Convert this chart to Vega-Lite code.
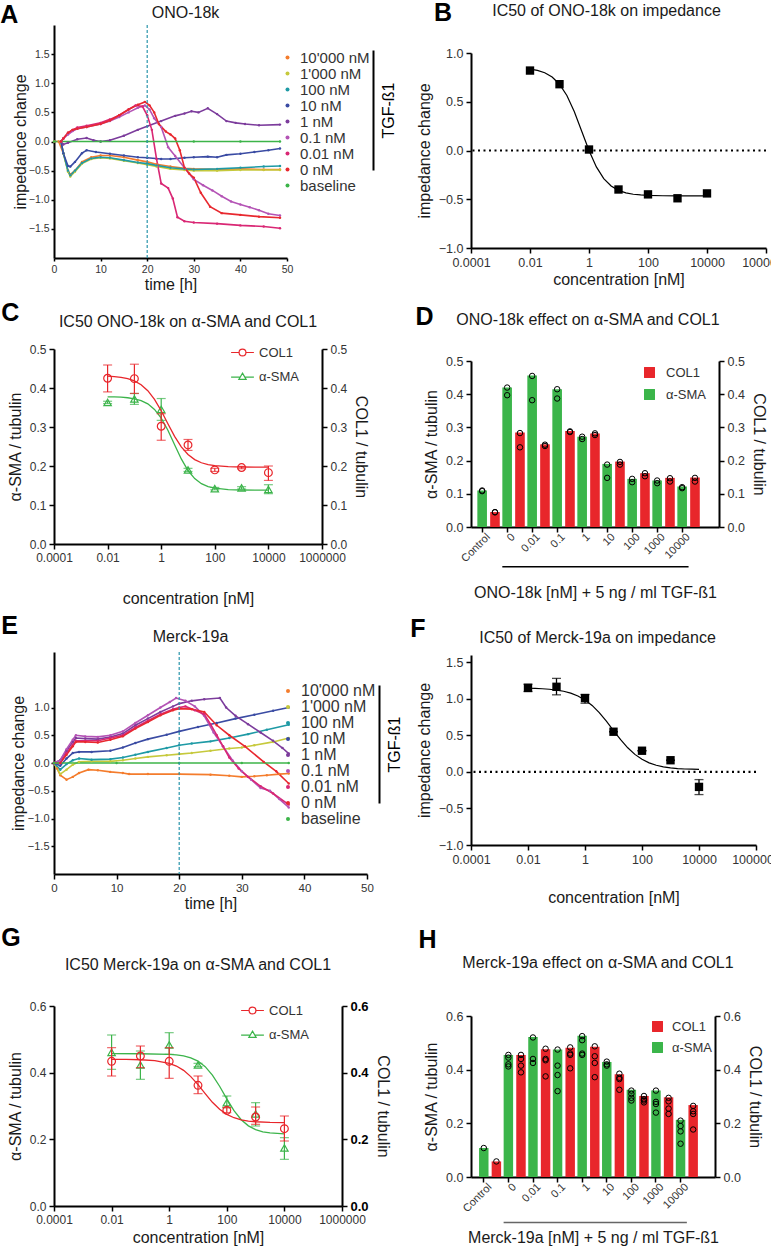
{
"$schema":"https://vega.github.io/schema/vega-lite/v6.json",
"padding":{"left":0,"top":1,"right":0,"bottom":0},
"background":"white",
"config":{
 "font":"Liberation Sans",
 "view":{"stroke":null},
 "axis":{"domainColor":"#000","domainWidth":2,"tickColor":"#000","tickWidth":1.5,"tickSize":5,"labelFontSize":12.5,"labelColor":"#333","titleFontSize":16,"titleFontWeight":"normal","titleColor":"#1a1a1a","grid":false,"labelPadding":3,"titlePadding":6,"labelOverlap":false,"labelFlush":false},
 "title":{"fontSize":16,"fontWeight":"normal","color":"#1a1a1a","frame":"group"},
 "legend":{"labelColor":"#333","titleFontWeight":"normal","labelFont":"Liberation Sans"}
},
"datasets":{
"tsA":[
{"s":"10'000 nM","t":0,"v":0},{"s":"10'000 nM","t":1,"v":0},{"s":"10'000 nM","t":2,"v":-0.2},{"s":"10'000 nM","t":3,"v":-0.5},{"s":"10'000 nM","t":3.5,"v":-0.57},{"s":"10'000 nM","t":4.5,"v":-0.5},{"s":"10'000 nM","t":6,"v":-0.35},{"s":"10'000 nM","t":8,"v":-0.27},{"s":"10'000 nM","t":10,"v":-0.24},{"s":"10'000 nM","t":12,"v":-0.24},{"s":"10'000 nM","t":15,"v":-0.27},{"s":"10'000 nM","t":18,"v":-0.32},{"s":"10'000 nM","t":20,"v":-0.35},{"s":"10'000 nM","t":22,"v":-0.39},{"s":"10'000 nM","t":25,"v":-0.43},{"s":"10'000 nM","t":28,"v":-0.46},{"s":"10'000 nM","t":30,"v":-0.47},{"s":"10'000 nM","t":35,"v":-0.48},{"s":"10'000 nM","t":40,"v":-0.47},{"s":"10'000 nM","t":45,"v":-0.48},{"s":"10'000 nM","t":48.5,"v":-0.48},
{"s":"1'000 nM","t":1.5,"v":0},{"s":"1'000 nM","t":2,"v":-0.2},{"s":"1'000 nM","t":3,"v":-0.52},{"s":"1'000 nM","t":3.5,"v":-0.6},{"s":"1'000 nM","t":4.5,"v":-0.52},{"s":"1'000 nM","t":6,"v":-0.38},{"s":"1'000 nM","t":8,"v":-0.3},{"s":"1'000 nM","t":10,"v":-0.28},{"s":"1'000 nM","t":12,"v":-0.29},{"s":"1'000 nM","t":15,"v":-0.33},{"s":"1'000 nM","t":18,"v":-0.37},{"s":"1'000 nM","t":20,"v":-0.4},{"s":"1'000 nM","t":22,"v":-0.43},{"s":"1'000 nM","t":25,"v":-0.47},{"s":"1'000 nM","t":28,"v":-0.49},{"s":"1'000 nM","t":30,"v":-0.5},{"s":"1'000 nM","t":35,"v":-0.5},{"s":"1'000 nM","t":40,"v":-0.49},{"s":"1'000 nM","t":45,"v":-0.49},{"s":"1'000 nM","t":48.5,"v":-0.49},
{"s":"100 nM","t":1.5,"v":0},{"s":"100 nM","t":2,"v":-0.2},{"s":"100 nM","t":3,"v":-0.5},{"s":"100 nM","t":3.5,"v":-0.58},{"s":"100 nM","t":4.5,"v":-0.5},{"s":"100 nM","t":6,"v":-0.37},{"s":"100 nM","t":8,"v":-0.29},{"s":"100 nM","t":10,"v":-0.27},{"s":"100 nM","t":12,"v":-0.28},{"s":"100 nM","t":15,"v":-0.32},{"s":"100 nM","t":18,"v":-0.36},{"s":"100 nM","t":20,"v":-0.38},{"s":"100 nM","t":22,"v":-0.41},{"s":"100 nM","t":25,"v":-0.45},{"s":"100 nM","t":28,"v":-0.47},{"s":"100 nM","t":30,"v":-0.48},{"s":"100 nM","t":35,"v":-0.47},{"s":"100 nM","t":40,"v":-0.45},{"s":"100 nM","t":45,"v":-0.43},{"s":"100 nM","t":48.5,"v":-0.42},
{"s":"10 nM","t":1.5,"v":0},{"s":"10 nM","t":2,"v":-0.2},{"s":"10 nM","t":3,"v":-0.42},{"s":"10 nM","t":3.5,"v":-0.43},{"s":"10 nM","t":4.5,"v":-0.35},{"s":"10 nM","t":6,"v":-0.2},{"s":"10 nM","t":7,"v":-0.15},{"s":"10 nM","t":9,"v":-0.18},{"s":"10 nM","t":12,"v":-0.21},{"s":"10 nM","t":15,"v":-0.24},{"s":"10 nM","t":18,"v":-0.27},{"s":"10 nM","t":20,"v":-0.28},{"s":"10 nM","t":23,"v":-0.3},{"s":"10 nM","t":25,"v":-0.3},{"s":"10 nM","t":28,"v":-0.28},{"s":"10 nM","t":30,"v":-0.27},{"s":"10 nM","t":33,"v":-0.26},{"s":"10 nM","t":35,"v":-0.27},{"s":"10 nM","t":37,"v":-0.23},{"s":"10 nM","t":40,"v":-0.21},{"s":"10 nM","t":43,"v":-0.18},{"s":"10 nM","t":46,"v":-0.15},{"s":"10 nM","t":48.5,"v":-0.12},
{"s":"1 nM","t":1.5,"v":0},{"s":"1 nM","t":2,"v":-0.05},{"s":"1 nM","t":3,"v":-0.02},{"s":"1 nM","t":5,"v":0.04},{"s":"1 nM","t":7,"v":0.06},{"s":"1 nM","t":8.5,"v":0.02},{"s":"1 nM","t":10,"v":0},{"s":"1 nM","t":12,"v":0.02},{"s":"1 nM","t":15,"v":0.1},{"s":"1 nM","t":18,"v":0.2},{"s":"1 nM","t":20,"v":0.26},{"s":"1 nM","t":23,"v":0.35},{"s":"1 nM","t":26,"v":0.44},{"s":"1 nM","t":28,"v":0.48},{"s":"1 nM","t":29.5,"v":0.52},{"s":"1 nM","t":31,"v":0.5},{"s":"1 nM","t":33,"v":0.57},{"s":"1 nM","t":35,"v":0.47},{"s":"1 nM","t":37,"v":0.35},{"s":"1 nM","t":39,"v":0.32},{"s":"1 nM","t":41,"v":0.3},{"s":"1 nM","t":44,"v":0.28},{"s":"1 nM","t":48.5,"v":0.29},
{"s":"0.1 nM","t":1.5,"v":0},{"s":"0.1 nM","t":2,"v":0.05},{"s":"0.1 nM","t":3,"v":0.12},{"s":"0.1 nM","t":4,"v":0.18},{"s":"0.1 nM","t":5,"v":0.22},{"s":"0.1 nM","t":7,"v":0.25},{"s":"0.1 nM","t":10,"v":0.3},{"s":"0.1 nM","t":12,"v":0.35},{"s":"0.1 nM","t":14,"v":0.42},{"s":"0.1 nM","t":16,"v":0.5},{"s":"0.1 nM","t":18,"v":0.58},{"s":"0.1 nM","t":19.5,"v":0.62},{"s":"0.1 nM","t":20.5,"v":0.55},{"s":"0.1 nM","t":21.5,"v":0.4},{"s":"0.1 nM","t":23,"v":0.25},{"s":"0.1 nM","t":24.5,"v":-0.1},{"s":"0.1 nM","t":26,"v":-0.25},{"s":"0.1 nM","t":28,"v":-0.45},{"s":"0.1 nM","t":30,"v":-0.65},{"s":"0.1 nM","t":32,"v":-0.75},{"s":"0.1 nM","t":34,"v":-0.84},{"s":"0.1 nM","t":36,"v":-0.94},{"s":"0.1 nM","t":38,"v":-1.03},{"s":"0.1 nM","t":40,"v":-1.08},{"s":"0.1 nM","t":42,"v":-1.13},{"s":"0.1 nM","t":44,"v":-1.18},{"s":"0.1 nM","t":46,"v":-1.24},{"s":"0.1 nM","t":48.5,"v":-1.27},
{"s":"0.01 nM","t":1.5,"v":0},{"s":"0.01 nM","t":2,"v":0.05},{"s":"0.01 nM","t":3,"v":0.15},{"s":"0.01 nM","t":4,"v":0.2},{"s":"0.01 nM","t":5,"v":0.24},{"s":"0.01 nM","t":7,"v":0.27},{"s":"0.01 nM","t":10,"v":0.32},{"s":"0.01 nM","t":12,"v":0.38},{"s":"0.01 nM","t":14,"v":0.45},{"s":"0.01 nM","t":16,"v":0.55},{"s":"0.01 nM","t":17.5,"v":0.62},{"s":"0.01 nM","t":19,"v":0.6},{"s":"0.01 nM","t":20,"v":0.45},{"s":"0.01 nM","t":21,"v":0.2},{"s":"0.01 nM","t":22,"v":-0.3},{"s":"0.01 nM","t":23,"v":-0.72},{"s":"0.01 nM","t":24.5,"v":-0.8},{"s":"0.01 nM","t":25.5,"v":-0.98},{"s":"0.01 nM","t":26.5,"v":-1.3},{"s":"0.01 nM","t":28,"v":-1.37},{"s":"0.01 nM","t":30,"v":-1.39},{"s":"0.01 nM","t":35,"v":-1.41},{"s":"0.01 nM","t":40,"v":-1.44},{"s":"0.01 nM","t":45,"v":-1.46},{"s":"0.01 nM","t":48.5,"v":-1.49},
{"s":"0 nM","t":1.5,"v":0},{"s":"0 nM","t":2,"v":0.05},{"s":"0 nM","t":3,"v":0.15},{"s":"0 nM","t":4,"v":0.2},{"s":"0 nM","t":5,"v":0.22},{"s":"0 nM","t":7,"v":0.25},{"s":"0 nM","t":10,"v":0.3},{"s":"0 nM","t":12,"v":0.36},{"s":"0 nM","t":14,"v":0.45},{"s":"0 nM","t":16,"v":0.55},{"s":"0 nM","t":18,"v":0.63},{"s":"0 nM","t":19.5,"v":0.68},{"s":"0 nM","t":20.5,"v":0.62},{"s":"0 nM","t":21.5,"v":0.5},{"s":"0 nM","t":22.5,"v":0.3},{"s":"0 nM","t":24,"v":0.17},{"s":"0 nM","t":25,"v":0.12},{"s":"0 nM","t":26,"v":0.05},{"s":"0 nM","t":27,"v":-0.15},{"s":"0 nM","t":28,"v":-0.45},{"s":"0 nM","t":29,"v":-0.55},{"s":"0 nM","t":30,"v":-0.62},{"s":"0 nM","t":31.5,"v":-0.88},{"s":"0 nM","t":33.5,"v":-1.12},{"s":"0 nM","t":36,"v":-1.23},{"s":"0 nM","t":40,"v":-1.26},{"s":"0 nM","t":44,"v":-1.29},{"s":"0 nM","t":48.5,"v":-1.31},
{"s":"baseline","t":0,"v":0},{"s":"baseline","t":10,"v":0},{"s":"baseline","t":20,"v":0},{"s":"baseline","t":30,"v":0},{"s":"baseline","t":40,"v":0},{"s":"baseline","t":48.5,"v":0}
],
"tsE":[
{"s":"10'000 nM","t":0,"v":0},{"s":"10'000 nM","t":0.5,"v":-0.1},{"s":"10'000 nM","t":1,"v":-0.22},{"s":"10'000 nM","t":2,"v":-0.3},{"s":"10'000 nM","t":3,"v":-0.25},{"s":"10'000 nM","t":4,"v":-0.18},{"s":"10'000 nM","t":5.5,"v":-0.12},{"s":"10'000 nM","t":7,"v":-0.13},{"s":"10'000 nM","t":9,"v":-0.16},{"s":"10'000 nM","t":11,"v":-0.18},{"s":"10'000 nM","t":12,"v":-0.2},{"s":"10'000 nM","t":15,"v":-0.2},{"s":"10'000 nM","t":20,"v":-0.2},{"s":"10'000 nM","t":25,"v":-0.21},{"s":"10'000 nM","t":28,"v":-0.23},{"s":"10'000 nM","t":30,"v":-0.25},{"s":"10'000 nM","t":32,"v":-0.24},{"s":"10'000 nM","t":34,"v":-0.22},{"s":"10'000 nM","t":36,"v":-0.2},{"s":"10'000 nM","t":37.5,"v":-0.19},
{"s":"1'000 nM","t":0,"v":0},{"s":"1'000 nM","t":1,"v":-0.2},{"s":"1'000 nM","t":2,"v":-0.12},{"s":"1'000 nM","t":3,"v":-0.03},{"s":"1'000 nM","t":4,"v":0.02},{"s":"1'000 nM","t":6,"v":0.03},{"s":"1'000 nM","t":9,"v":0.03},{"s":"1'000 nM","t":11,"v":0.05},{"s":"1'000 nM","t":13,"v":0.08},{"s":"1'000 nM","t":15,"v":0.11},{"s":"1'000 nM","t":18,"v":0.14},{"s":"1'000 nM","t":20,"v":0.16},{"s":"1'000 nM","t":22,"v":0.18},{"s":"1'000 nM","t":25,"v":0.22},{"s":"1'000 nM","t":28,"v":0.26},{"s":"1'000 nM","t":30,"v":0.28},{"s":"1'000 nM","t":32,"v":0.32},{"s":"1'000 nM","t":35,"v":0.38},{"s":"1'000 nM","t":37.5,"v":0.45},
{"s":"100 nM","t":0,"v":0},{"s":"100 nM","t":1,"v":-0.12},{"s":"100 nM","t":2,"v":-0.02},{"s":"100 nM","t":3,"v":0.05},{"s":"100 nM","t":4,"v":0.08},{"s":"100 nM","t":6,"v":0.06},{"s":"100 nM","t":9,"v":0.07},{"s":"100 nM","t":11,"v":0.1},{"s":"100 nM","t":13,"v":0.15},{"s":"100 nM","t":15,"v":0.2},{"s":"100 nM","t":18,"v":0.27},{"s":"100 nM","t":20,"v":0.32},{"s":"100 nM","t":22,"v":0.35},{"s":"100 nM","t":25,"v":0.39},{"s":"100 nM","t":28,"v":0.45},{"s":"100 nM","t":31,"v":0.52},{"s":"100 nM","t":34,"v":0.6},{"s":"100 nM","t":37.5,"v":0.69},
{"s":"10 nM","t":0,"v":0},{"s":"10 nM","t":1,"v":-0.05},{"s":"10 nM","t":2,"v":0.08},{"s":"10 nM","t":3,"v":0.18},{"s":"10 nM","t":4,"v":0.2},{"s":"10 nM","t":6,"v":0.2},{"s":"10 nM","t":9,"v":0.22},{"s":"10 nM","t":11,"v":0.28},{"s":"10 nM","t":13,"v":0.36},{"s":"10 nM","t":15,"v":0.43},{"s":"10 nM","t":18,"v":0.51},{"s":"10 nM","t":20,"v":0.57},{"s":"10 nM","t":23,"v":0.65},{"s":"10 nM","t":26,"v":0.72},{"s":"10 nM","t":29,"v":0.8},{"s":"10 nM","t":32,"v":0.87},{"s":"10 nM","t":35,"v":0.94},{"s":"10 nM","t":37.5,"v":1.0},
{"s":"1 nM","t":0,"v":0},{"s":"1 nM","t":1,"v":0.05},{"s":"1 nM","t":2,"v":0.22},{"s":"1 nM","t":3,"v":0.38},{"s":"1 nM","t":3.5,"v":0.45},{"s":"1 nM","t":5,"v":0.44},{"s":"1 nM","t":7,"v":0.43},{"s":"1 nM","t":9,"v":0.47},{"s":"1 nM","t":11,"v":0.53},{"s":"1 nM","t":13,"v":0.68},{"s":"1 nM","t":15,"v":0.8},{"s":"1 nM","t":17,"v":0.92},{"s":"1 nM","t":19,"v":1.02},{"s":"1 nM","t":20,"v":1.07},{"s":"1 nM","t":22,"v":1.12},{"s":"1 nM","t":24,"v":1.15},{"s":"1 nM","t":26.5,"v":1.17},{"s":"1 nM","t":27.5,"v":1.0},{"s":"1 nM","t":29,"v":0.85},{"s":"1 nM","t":31,"v":0.7},{"s":"1 nM","t":33,"v":0.55},{"s":"1 nM","t":35,"v":0.4},{"s":"1 nM","t":36.5,"v":0.27},{"s":"1 nM","t":37.5,"v":0.17},
{"s":"0.1 nM","t":0,"v":0},{"s":"0.1 nM","t":1,"v":0.05},{"s":"0.1 nM","t":2,"v":0.25},{"s":"0.1 nM","t":3,"v":0.42},{"s":"0.1 nM","t":3.5,"v":0.5},{"s":"0.1 nM","t":5,"v":0.48},{"s":"0.1 nM","t":7,"v":0.47},{"s":"0.1 nM","t":9,"v":0.5},{"s":"0.1 nM","t":11,"v":0.57},{"s":"0.1 nM","t":13,"v":0.72},{"s":"0.1 nM","t":15,"v":0.86},{"s":"0.1 nM","t":17,"v":1.0},{"s":"0.1 nM","t":18.5,"v":1.1},{"s":"0.1 nM","t":19.5,"v":1.17},{"s":"0.1 nM","t":21,"v":1.12},{"s":"0.1 nM","t":22.5,"v":1.02},{"s":"0.1 nM","t":24,"v":0.85},{"s":"0.1 nM","t":25.5,"v":0.55},{"s":"0.1 nM","t":27,"v":0.3},{"s":"0.1 nM","t":28.5,"v":0.05},{"s":"0.1 nM","t":30,"v":-0.15},{"s":"0.1 nM","t":31.5,"v":-0.3},{"s":"0.1 nM","t":33,"v":-0.45},{"s":"0.1 nM","t":34.5,"v":-0.5},{"s":"0.1 nM","t":36,"v":-0.65},{"s":"0.1 nM","t":37.5,"v":-0.8},
{"s":"0.01 nM","t":0,"v":0},{"s":"0.01 nM","t":1,"v":0},{"s":"0.01 nM","t":2,"v":0.18},{"s":"0.01 nM","t":3,"v":0.33},{"s":"0.01 nM","t":3.5,"v":0.4},{"s":"0.01 nM","t":5,"v":0.4},{"s":"0.01 nM","t":7,"v":0.4},{"s":"0.01 nM","t":9,"v":0.45},{"s":"0.01 nM","t":11,"v":0.5},{"s":"0.01 nM","t":13,"v":0.64},{"s":"0.01 nM","t":15,"v":0.76},{"s":"0.01 nM","t":17,"v":0.88},{"s":"0.01 nM","t":19,"v":0.97},{"s":"0.01 nM","t":20,"v":1.0},{"s":"0.01 nM","t":21,"v":1.02},{"s":"0.01 nM","t":22.5,"v":0.95},{"s":"0.01 nM","t":24,"v":0.88},{"s":"0.01 nM","t":25,"v":0.7},{"s":"0.01 nM","t":26,"v":0.5},{"s":"0.01 nM","t":27,"v":0.3},{"s":"0.01 nM","t":28,"v":0.1},{"s":"0.01 nM","t":29.5,"v":-0.1},{"s":"0.01 nM","t":31,"v":-0.25},{"s":"0.01 nM","t":33,"v":-0.42},{"s":"0.01 nM","t":35,"v":-0.55},{"s":"0.01 nM","t":37.5,"v":-0.75},
{"s":"0 nM","t":0,"v":0},{"s":"0 nM","t":1,"v":0},{"s":"0 nM","t":2,"v":0.15},{"s":"0 nM","t":3,"v":0.3},{"s":"0 nM","t":3.5,"v":0.38},{"s":"0 nM","t":5,"v":0.38},{"s":"0 nM","t":7,"v":0.37},{"s":"0 nM","t":9,"v":0.42},{"s":"0 nM","t":11,"v":0.48},{"s":"0 nM","t":13,"v":0.62},{"s":"0 nM","t":15,"v":0.74},{"s":"0 nM","t":17,"v":0.86},{"s":"0 nM","t":19,"v":0.95},{"s":"0 nM","t":20,"v":0.98},{"s":"0 nM","t":22,"v":0.97},{"s":"0 nM","t":24,"v":0.92},{"s":"0 nM","t":26,"v":0.68},{"s":"0 nM","t":28,"v":0.5},{"s":"0 nM","t":30.5,"v":0.3},{"s":"0 nM","t":33.5,"v":0.02},{"s":"0 nM","t":35.5,"v":-0.15},{"s":"0 nM","t":37.5,"v":-0.37},
{"s":"baseline","t":0,"v":0},{"s":"baseline","t":10,"v":0},{"s":"baseline","t":20,"v":0},{"s":"baseline","t":30,"v":0},{"s":"baseline","t":37.5,"v":0}
],
"fitB":[{"c":0.01,"v":0.834},{"c":0.01778,"v":0.821},{"c":0.03162,"v":0.797},{"c":0.05623,"v":0.753},{"c":0.1,"v":0.68},{"c":0.1778,"v":0.564},{"c":0.3162,"v":0.399},{"c":0.5623,"v":0.2},{"c":1,"v":0},{"c":1.778,"v":-0.168},{"c":3.162,"v":-0.288},{"c":5.623,"v":-0.364},{"c":10,"v":-0.409},{"c":17.78,"v":-0.435},{"c":31.62,"v":-0.449},{"c":56.23,"v":-0.456},{"c":100,"v":-0.46},{"c":316.2,"v":-0.464},{"c":1000,"v":-0.465},{"c":3162,"v":-0.465},{"c":10000,"v":-0.465}],
"ptsB":[{"c":0.01,"v":0.82},{"c":0.1,"v":0.68},{"c":1,"v":0.01},{"c":10,"v":-0.4},{"c":100,"v":-0.45},{"c":1000,"v":-0.49},{"c":10000,"v":-0.44}],
"fitF":[{"c":0.01,"v":1.145},{"c":0.01778,"v":1.142},{"c":0.03162,"v":1.138},{"c":0.05623,"v":1.131},{"c":0.1,"v":1.12},{"c":0.1778,"v":1.104},{"c":0.3162,"v":1.078},{"c":0.5623,"v":1.04},{"c":1,"v":0.985},{"c":1.778,"v":0.91},{"c":3.162,"v":0.812},{"c":5.623,"v":0.694},{"c":10,"v":0.566},{"c":17.78,"v":0.441},{"c":31.62,"v":0.33},{"c":56.23,"v":0.24},{"c":100,"v":0.172},{"c":177.8,"v":0.124},{"c":316.2,"v":0.091},{"c":562.3,"v":0.07},{"c":1000,"v":0.055},{"c":1778,"v":0.046},{"c":3162,"v":0.04},{"c":5623,"v":0.037},{"c":10000,"v":0.034}],
"ptsF":[{"c":0.01,"v":1.15,"lo":1.1,"hi":1.2},{"c":0.1,"v":1.165,"lo":1.055,"hi":1.28},{"c":1,"v":1.01,"lo":0.94,"hi":1.06},{"c":10,"v":0.55,"lo":0.55,"hi":0.55},{"c":100,"v":0.29,"lo":0.29,"hi":0.29},{"c":1000,"v":0.16,"lo":0.16,"hi":0.16},{"c":10000,"v":-0.205,"lo":-0.31,"hi":-0.105}],
"ptsC":[
{"s":"COL1","c":0.01,"v":0.425,"lo":0.39,"hi":0.459},{"s":"COL1","c":0.1,"v":0.424,"lo":0.386,"hi":0.461},{"s":"COL1","c":1,"v":0.302,"lo":0.266,"hi":0.334},{"s":"COL1","c":10,"v":0.254,"lo":0.24,"hi":0.268},{"s":"COL1","c":100,"v":0.19,"lo":0.186,"hi":0.194},{"s":"COL1","c":1000,"v":0.196,"lo":0.193,"hi":0.199},{"s":"COL1","c":10000,"v":0.183,"lo":0.163,"hi":0.2},
{"s":"α-SMA","c":0.01,"v":0.363,"lo":0.36,"hi":0.366},{"s":"α-SMA","c":0.1,"v":0.372,"lo":0.358,"hi":0.386},{"s":"α-SMA","c":1,"v":0.345,"lo":0.317,"hi":0.373},{"s":"α-SMA","c":10,"v":0.19,"lo":0.186,"hi":0.194},{"s":"α-SMA","c":100,"v":0.142,"lo":0.139,"hi":0.145},{"s":"α-SMA","c":1000,"v":0.144,"lo":0.141,"hi":0.147},{"s":"α-SMA","c":10000,"v":0.14,"lo":0.129,"hi":0.152}],
"fitC":[
{"s":"COL1","c":0.01,"v":0.4305},{"s":"COL1","c":0.01778,"v":0.4294},{"s":"COL1","c":0.03162,"v":0.4274},{"s":"COL1","c":0.05623,"v":0.424},{"s":"COL1","c":0.1,"v":0.4182},{"s":"COL1","c":0.1778,"v":0.4085},{"s":"COL1","c":0.3162,"v":0.3932},{"s":"COL1","c":0.5623,"v":0.3709},{"s":"COL1","c":1,"v":0.3416},{"s":"COL1","c":1.778,"v":0.3083},{"s":"COL1","c":3.162,"v":0.276},{"s":"COL1","c":5.623,"v":0.2491},{"s":"COL1","c":10,"v":0.2294},{"s":"COL1","c":17.78,"v":0.2164},{"s":"COL1","c":31.62,"v":0.2083},{"s":"COL1","c":56.23,"v":0.2035},{"s":"COL1","c":100,"v":0.2007},{"s":"COL1","c":316.2,"v":0.1982},{"s":"COL1","c":1000,"v":0.1974},{"s":"COL1","c":3162,"v":0.1971},{"s":"COL1","c":10000,"v":0.197},
{"s":"α-SMA","c":0.01,"v":0.3775},{"s":"α-SMA","c":0.01778,"v":0.3772},{"s":"α-SMA","c":0.03162,"v":0.3764},{"s":"α-SMA","c":0.05623,"v":0.375},{"s":"α-SMA","c":0.1,"v":0.3724},{"s":"α-SMA","c":0.1778,"v":0.3677},{"s":"α-SMA","c":0.3162,"v":0.3594},{"s":"α-SMA","c":0.5623,"v":0.3451},{"s":"α-SMA","c":1,"v":0.3228},{"s":"α-SMA","c":1.778,"v":0.2916},{"s":"α-SMA","c":3.162,"v":0.2545},{"s":"α-SMA","c":5.623,"v":0.2181},{"s":"α-SMA","c":10,"v":0.1884},{"s":"α-SMA","c":17.78,"v":0.1677},{"s":"α-SMA","c":31.62,"v":0.1547},{"s":"α-SMA","c":56.23,"v":0.1472},{"s":"α-SMA","c":100,"v":0.143},{"s":"α-SMA","c":316.2,"v":0.1394},{"s":"α-SMA","c":1000,"v":0.1384},{"s":"α-SMA","c":3162,"v":0.1381},{"s":"α-SMA","c":10000,"v":0.138}],
"ptsG":[
{"s":"COL1","c":0.01,"v":0.434,"lo":0.39,"hi":0.475},{"s":"COL1","c":0.1,"v":0.45,"lo":0.415,"hi":0.48},{"s":"COL1","c":1,"v":0.434,"lo":0.383,"hi":0.475},{"s":"COL1","c":10,"v":0.362,"lo":0.337,"hi":0.39},{"s":"COL1","c":100,"v":0.287,"lo":0.28,"hi":0.295},{"s":"COL1","c":1000,"v":0.267,"lo":0.245,"hi":0.297},{"s":"COL1","c":10000,"v":0.232,"lo":0.195,"hi":0.27},
{"s":"α-SMA","c":0.01,"v":0.461,"lo":0.41,"hi":0.513},{"s":"α-SMA","c":0.1,"v":0.423,"lo":0.38,"hi":0.465},{"s":"α-SMA","c":1,"v":0.483,"lo":0.455,"hi":0.52},{"s":"α-SMA","c":10,"v":0.423,"lo":0.418,"hi":0.428},{"s":"α-SMA","c":100,"v":0.31,"lo":0.295,"hi":0.33},{"s":"α-SMA","c":1000,"v":0.276,"lo":0.24,"hi":0.31},{"s":"α-SMA","c":10000,"v":0.174,"lo":0.14,"hi":0.205}],
"fitG":[
{"s":"COL1","c":0.01,"v":0.4399},{"s":"COL1","c":0.03162,"v":0.4396},{"s":"COL1","c":0.1,"v":0.4387},{"s":"COL1","c":0.3162,"v":0.4361},{"s":"COL1","c":1,"v":0.4281},{"s":"COL1","c":1.778,"v":0.4199},{"s":"COL1","c":3.162,"v":0.4069},{"s":"COL1","c":5.623,"v":0.3882},{"s":"COL1","c":10,"v":0.364},{"s":"COL1","c":17.78,"v":0.337},{"s":"COL1","c":31.62,"v":0.3111},{"s":"COL1","c":56.23,"v":0.29},{"s":"COL1","c":100,"v":0.2748},{"s":"COL1","c":177.8,"v":0.2648},{"s":"COL1","c":316.2,"v":0.2586},{"s":"COL1","c":562.3,"v":0.2549},{"s":"COL1","c":1000,"v":0.2528},{"s":"COL1","c":3162,"v":0.2509},{"s":"COL1","c":10000,"v":0.2503},
{"s":"α-SMA","c":0.01,"v":0.457},{"s":"α-SMA","c":0.1,"v":0.4568},{"s":"α-SMA","c":1,"v":0.4551},{"s":"α-SMA","c":1.778,"v":0.4534},{"s":"α-SMA","c":3.162,"v":0.4503},{"s":"α-SMA","c":5.623,"v":0.4446},{"s":"α-SMA","c":10,"v":0.4347},{"s":"α-SMA","c":17.78,"v":0.4181},{"s":"α-SMA","c":31.62,"v":0.3929},{"s":"α-SMA","c":56.23,"v":0.3592},{"s":"α-SMA","c":100,"v":0.3212},{"s":"α-SMA","c":177.8,"v":0.286},{"s":"α-SMA","c":316.2,"v":0.2587},{"s":"α-SMA","c":562.3,"v":0.2404},{"s":"α-SMA","c":1000,"v":0.2292},{"s":"α-SMA","c":1778,"v":0.2227},{"s":"α-SMA","c":3162,"v":0.2192},{"s":"α-SMA","c":10000,"v":0.2162}],
"barsD":[
{"g":"Control","s":"α-SMA","v":0.11},{"g":"Control","s":"COL1","v":0.045},{"g":"0","s":"α-SMA","v":0.42},{"g":"0","s":"COL1","v":0.285},{"g":"0.01","s":"α-SMA","v":0.456},{"g":"0.01","s":"COL1","v":0.249},{"g":"0.1","s":"α-SMA","v":0.415},{"g":"0.1","s":"COL1","v":0.289},{"g":"1","s":"α-SMA","v":0.272},{"g":"1","s":"COL1","v":0.282},{"g":"10","s":"α-SMA","v":0.19},{"g":"10","s":"COL1","v":0.197},{"g":"100","s":"α-SMA","v":0.145},{"g":"100","s":"COL1","v":0.162},{"g":"1000","s":"α-SMA","v":0.14},{"g":"1000","s":"COL1","v":0.148},{"g":"10000","s":"α-SMA","v":0.122},{"g":"10000","s":"COL1","v":0.149}],
"dotsD":[
{"g":"Control","s":"α-SMA","v":0.11},{"g":"Control","s":"α-SMA","v":0.108},{"g":"Control","s":"COL1","v":0.045},{"g":"Control","s":"COL1","v":0.044},
{"g":"0","s":"α-SMA","v":0.42},{"g":"0","s":"α-SMA","v":0.397},{"g":"0","s":"COL1","v":0.283},{"g":"0","s":"COL1","v":0.24},
{"g":"0.01","s":"α-SMA","v":0.455},{"g":"0.01","s":"α-SMA","v":0.382},{"g":"0.01","s":"COL1","v":0.248},{"g":"0.01","s":"COL1","v":0.244},
{"g":"0.1","s":"α-SMA","v":0.415},{"g":"0.1","s":"α-SMA","v":0.387},{"g":"0.1","s":"COL1","v":0.288},{"g":"0.1","s":"COL1","v":0.286},
{"g":"1","s":"α-SMA","v":0.272},{"g":"1","s":"α-SMA","v":0.265},{"g":"1","s":"COL1","v":0.282},{"g":"1","s":"COL1","v":0.277},
{"g":"10","s":"α-SMA","v":0.188},{"g":"10","s":"α-SMA","v":0.148},{"g":"10","s":"COL1","v":0.196},{"g":"10","s":"COL1","v":0.188},
{"g":"100","s":"α-SMA","v":0.145},{"g":"100","s":"α-SMA","v":0.135},{"g":"100","s":"COL1","v":0.162},{"g":"100","s":"COL1","v":0.153},
{"g":"1000","s":"α-SMA","v":0.14},{"g":"1000","s":"α-SMA","v":0.132},{"g":"1000","s":"COL1","v":0.147},{"g":"1000","s":"COL1","v":0.137},
{"g":"10000","s":"α-SMA","v":0.12},{"g":"10000","s":"α-SMA","v":0.117},{"g":"10000","s":"COL1","v":0.148},{"g":"10000","s":"COL1","v":0.137}],
"barsH":[
{"g":"Control","s":"α-SMA","v":0.108},{"g":"Control","s":"COL1","v":0.058},{"g":"0","s":"α-SMA","v":0.455},{"g":"0","s":"COL1","v":0.455},{"g":"0.01","s":"α-SMA","v":0.522},{"g":"0.01","s":"COL1","v":0.476},{"g":"0.1","s":"α-SMA","v":0.475},{"g":"0.1","s":"COL1","v":0.482},{"g":"1","s":"α-SMA","v":0.526},{"g":"1","s":"COL1","v":0.485},{"g":"10","s":"α-SMA","v":0.429},{"g":"10","s":"COL1","v":0.383},{"g":"100","s":"α-SMA","v":0.325},{"g":"100","s":"COL1","v":0.302},{"g":"1000","s":"α-SMA","v":0.322},{"g":"1000","s":"COL1","v":0.297},{"g":"10000","s":"α-SMA","v":0.213},{"g":"10000","s":"COL1","v":0.268}],
"dotsH":[
{"g":"Control","s":"α-SMA","v":0.108},{"g":"Control","s":"COL1","v":0.058},
{"g":"0","s":"α-SMA","v":0.455},{"g":"0","s":"α-SMA","v":0.445},{"g":"0","s":"α-SMA","v":0.42},{"g":"0","s":"α-SMA","v":0.412},{"g":"0","s":"COL1","v":0.455},{"g":"0","s":"COL1","v":0.44},{"g":"0","s":"COL1","v":0.415},{"g":"0","s":"COL1","v":0.39},
{"g":"0.01","s":"α-SMA","v":0.52},{"g":"0.01","s":"α-SMA","v":0.44},{"g":"0.01","s":"α-SMA","v":0.425},{"g":"0.01","s":"COL1","v":0.478},{"g":"0.01","s":"COL1","v":0.44},{"g":"0.01","s":"COL1","v":0.435},{"g":"0.01","s":"COL1","v":0.375},
{"g":"0.1","s":"α-SMA","v":0.475},{"g":"0.1","s":"α-SMA","v":0.415},{"g":"0.1","s":"α-SMA","v":0.38},{"g":"0.1","s":"α-SMA","v":0.32},{"g":"0.1","s":"COL1","v":0.483},{"g":"0.1","s":"COL1","v":0.46},{"g":"0.1","s":"COL1","v":0.455},{"g":"0.1","s":"COL1","v":0.405},
{"g":"1","s":"α-SMA","v":0.525},{"g":"1","s":"α-SMA","v":0.51},{"g":"1","s":"α-SMA","v":0.46},{"g":"1","s":"α-SMA","v":0.455},{"g":"1","s":"COL1","v":0.487},{"g":"1","s":"COL1","v":0.45},{"g":"1","s":"COL1","v":0.425},{"g":"1","s":"COL1","v":0.372},
{"g":"10","s":"α-SMA","v":0.43},{"g":"10","s":"α-SMA","v":0.42},{"g":"10","s":"α-SMA","v":0.415},{"g":"10","s":"COL1","v":0.385},{"g":"10","s":"COL1","v":0.37},{"g":"10","s":"COL1","v":0.365},{"g":"10","s":"COL1","v":0.325},
{"g":"100","s":"α-SMA","v":0.322},{"g":"100","s":"α-SMA","v":0.31},{"g":"100","s":"α-SMA","v":0.295},{"g":"100","s":"α-SMA","v":0.285},{"g":"100","s":"COL1","v":0.302},{"g":"100","s":"COL1","v":0.29},{"g":"100","s":"COL1","v":0.285},{"g":"100","s":"COL1","v":0.278},
{"g":"1000","s":"α-SMA","v":0.322},{"g":"1000","s":"α-SMA","v":0.28},{"g":"1000","s":"α-SMA","v":0.272},{"g":"1000","s":"α-SMA","v":0.24},{"g":"1000","s":"COL1","v":0.295},{"g":"1000","s":"COL1","v":0.282},{"g":"1000","s":"COL1","v":0.255},{"g":"1000","s":"COL1","v":0.235},
{"g":"10000","s":"α-SMA","v":0.21},{"g":"10000","s":"α-SMA","v":0.19},{"g":"10000","s":"α-SMA","v":0.17},{"g":"10000","s":"α-SMA","v":0.124},{"g":"10000","s":"COL1","v":0.265},{"g":"10000","s":"COL1","v":0.245},{"g":"10000","s":"COL1","v":0.235},{"g":"10000","s":"COL1","v":0.177}]
},
"resolve":{"scale":{"color":"independent","shape":"independent","stroke":"independent","xOffset":"independent"},"legend":{"color":"independent","shape":"independent"}},
"columns":2,"align":"none","spacing":8,
"concat":[
{"concat":[
 {"title":{"text":"A","anchor":"start","frame":"bounds","fontSize":25,"fontWeight":"bold","color":"#000","offset":-23,"dx":-12},
  "resolve":{"legend":{"color":"independent"}},
  "vconcat":[{
   "title":{"text":"ONO-18k","dx":15,"offset":3},
   "width":233,"height":233,
   "layer":[
    {"layer":[
     {"data":{"name":"tsA"},"mark":{"type":"line","strokeWidth":1.6},
      "encoding":{
       "x":{"field":"t","type":"quantitative","scale":{"domain":[0,50],"nice":false},"axis":{"values":[0,10,20,30,40,50],"tickCount":20,"title":"time [h]","labelFontSize":10.5,"titlePadding":2,"tickSize":3}},
       "y":{"field":"v","type":"quantitative","scale":{"domain":[-1.5,1.5]},"axis":{"values":[-1.5,-1,-0.5,0,0.5,1,1.5],"tickCount":20,"format":".1f","title":"impedance change","labelFontSize":10.5,"titlePadding":0,"tickSize":3,"labelPadding":2}},
       "stroke":{"field":"s","type":"nominal","scale":{"domain":["10'000 nM","1'000 nM","100 nM","10 nM","1 nM","0.1 nM","0.01 nM","0 nM","baseline"],"range":["#f47c2c","#c6c93c","#1e9aa5","#3a4ba3","#7c3c9c","#b453b5","#d92774","#e8282f","#3cb449"]},"legend":null}}},
     {"data":{"name":"tsA"},"mark":{"type":"point","filled":true,"size":6,"opacity":1},
      "encoding":{
       "x":{"field":"t","type":"quantitative"},
       "y":{"field":"v","type":"quantitative"},
       "color":{"field":"s","type":"nominal","scale":{"domain":["10'000 nM","1'000 nM","100 nM","10 nM","1 nM","0.1 nM","0.01 nM","0 nM","baseline"],"range":["#f47c2c","#c6c93c","#1e9aa5","#3a4ba3","#7c3c9c","#b453b5","#d92774","#e8282f","#3cb449"]},
        "legend":{"orient":"none","legendX":226,"legendY":25,"title":null,"labelFontSize":15,"symbolSize":16,"rowPadding":-2,"labelOffset":5,
         "encode":{
          "symbols":{"shape":{"value":{"expr":"['circle','square','triangle-up','triangle-down','diamond','circle','square','triangle-down','triangle-up'][indexof([\"10'000 nM\",\"1'000 nM\",\"100 nM\",\"10 nM\",\"1 nM\",\"0.1 nM\",\"0.01 nM\",\"0 nM\",\"baseline\"], datum.value)]"}}},
          "labels":{"fill":{"value":{"expr":"['#f47c2c','#b5b82e','#17a07a','#3a4ba3','#7c3c9c','#b453b5','#d92774','#e8282f','#3cb449'][indexof([\"10'000 nM\",\"1'000 nM\",\"100 nM\",\"10 nM\",\"1 nM\",\"0.1 nM\",\"0.01 nM\",\"0 nM\",\"baseline\"], datum.value)]"}}}}}}}},
     {"data":{"values":[{}]},"mark":{"type":"rule","color":"#2b95ab","strokeDash":[3,2],"strokeWidth":1.2},"encoding":{"x":{"datum":20,"type":"quantitative"}}}
    ]},
    {"data":{"values":[{}]},"mark":{"type":"point","opacity":0},
     "encoding":{"y":{"datum":0,"type":"quantitative","scale":{"domain":[0,1],"range":[145,25]},
      "axis":{"orient":"right","offset":86,"title":"TGF-ß1","titleAngle":270,"titleBaseline":"top","titleFontSize":16,"titleColor":"#000","titlePadding":7,"labels":false,"ticks":false,"values":[],"domainColor":"#000","domainWidth":2}}}}
   ],
   "resolve":{"scale":{"y":"independent"}}
  }]
 },
 {"title":{"text":"C","anchor":"start","frame":"bounds","fontSize":25,"fontWeight":"bold","color":"#000","offset":-12,"dx":-6},
  "resolve":{"legend":{"color":"independent","shape":"independent"}},
  "vconcat":[{
   "title":{"text":"IC50 ONO-18k on α-SMA and COL1","offset":10},
   "width":268,"height":195,
   "layer":[
    {"layer":[
     {"data":{"name":"ptsC"},"transform":[{"filter":"datum.s == 'α-SMA'"}],"mark":{"type":"errorbar","ticks":true,"size":9,"thickness":1.2,"color":"#3cb44b"},
      "encoding":{
       "x":{"field":"c","type":"quantitative","scale":{"type":"log","domain":[0.0001,1000000]},"axis":{"values":[0.0001,0.01,1,100,10000,1000000],"tickCount":20,"labelExpr":"datum.value >= 1 ? format(datum.value, 'd') : format(datum.value, '~f')","title":"concentration [nM]","titlePadding":27,"labelFontSize":12}},
       "y":{"field":"lo","type":"quantitative","title":"α-SMA / tubulin","scale":{"domain":[0,0.5]},"axis":{"orient":"left","values":[0,0.1,0.2,0.3,0.4,0.5],"tickCount":20,"format":".1f","title":"α-SMA / tubulin","labelFontSize":12}},
       "y2":{"field":"hi"}}},
     {"data":{"name":"fitC"},"transform":[{"filter":"datum.s == 'α-SMA'"}],"mark":{"type":"line","color":"#3cb44b","strokeWidth":1.3},
      "encoding":{"x":{"field":"c","type":"quantitative"},"y":{"field":"v","type":"quantitative","title":"α-SMA / tubulin"}}},
     {"data":{"name":"ptsC"},"transform":[{"filter":"datum.s == 'α-SMA'"}],"mark":{"type":"point","shape":"triangle-up","filled":false,"size":55,"strokeWidth":1.2,"color":"#3cb44b","opacity":1},
      "encoding":{"x":{"field":"c","type":"quantitative"},"y":{"field":"v","type":"quantitative","title":"α-SMA / tubulin"}}}
    ]},
    {"layer":[
     {"data":{"name":"ptsC"},"transform":[{"filter":"datum.s == 'COL1'"}],"mark":{"type":"errorbar","ticks":true,"size":9,"thickness":1.2,"color":"#e8262b"},
      "encoding":{
       "x":{"field":"c","type":"quantitative"},
       "y":{"field":"lo","type":"quantitative","title":"COL1 / tubulin","scale":{"domain":[0,0.5]},"axis":{"orient":"right","values":[0,0.1,0.2,0.3,0.4,0.5],"tickCount":20,"format":".1f","title":"COL1 / tubulin","labelFontSize":12}},
       "y2":{"field":"hi"}}},
     {"data":{"name":"fitC"},"transform":[{"filter":"datum.s == 'COL1'"}],"mark":{"type":"line","color":"#e8262b","strokeWidth":1.3},
      "encoding":{"x":{"field":"c","type":"quantitative"},"y":{"field":"v","type":"quantitative","title":"COL1 / tubulin"}}},
     {"data":{"name":"ptsC"},"transform":[{"filter":"datum.s == 'COL1'"}],"mark":{"type":"point","shape":"circle","filled":false,"size":60,"strokeWidth":1.2,"color":"#e8262b","opacity":1},
      "encoding":{"x":{"field":"c","type":"quantitative"},"y":{"field":"v","type":"quantitative","title":"COL1 / tubulin"}}},
     {"data":{"name":"ptsC"},"mark":{"type":"point","filled":false,"opacity":0},
      "encoding":{"x":{"field":"c","type":"quantitative"},"y":{"field":"v","type":"quantitative","title":"COL1 / tubulin"},
       "color":{"field":"s","type":"nominal","scale":{"domain":["COL1","α-SMA"],"range":["#e8262b","#3cb44b"]},
        "legend":{"orient":"none","legendX":176,"legendY":-9,"title":null,"labelFontSize":13,"rowPadding":4,"symbolSize":520,"symbolStrokeWidth":1.2,"symbolOpacity":1,"labelOffset":4}},
       "shape":{"field":"s","type":"nominal","scale":{"domain":["COL1","α-SMA"],"range":["M-1,0L-0.3,0M0.3,0L1,0M0.3,0A0.3,0.3,0,1,1,-0.3,0A0.3,0.3,0,1,1,0.3,0","M-1,0.05L-0.22,0.05M0.22,0.05L1,0.05M0,-0.3L0.32,0.25L-0.32,0.25Z"]}}}}
    ]}
   ],
   "resolve":{"scale":{"y":"independent"}}
  }]
 },
 {"title":{"text":"E","anchor":"start","frame":"bounds","fontSize":25,"fontWeight":"bold","color":"#000","offset":-10,"dx":-9},
  "resolve":{"legend":{"color":"independent"}},
  "vconcat":[{
   "title":{"text":"Merck-19a","dx":-20,"offset":6},
   "width":313,"height":222,
   "layer":[
    {"layer":[
     {"data":{"name":"tsE"},"mark":{"type":"line","strokeWidth":1.6},
      "encoding":{
       "x":{"field":"t","type":"quantitative","scale":{"domain":[0,50],"nice":false},"axis":{"values":[0,10,20,30,40,50],"tickCount":20,"title":"time [h]","titlePadding":2,"labelFontSize":11.5}},
       "y":{"field":"v","type":"quantitative","scale":{"domain":[-1.5,1.5]},"axis":{"values":[-1.5,-1,-0.5,0,0.5,1],"tickCount":20,"format":".1f","title":"impedance change","titlePadding":1,"labelFontSize":11,"tickSize":3,"labelPadding":2}},
       "stroke":{"field":"s","type":"nominal","scale":{"domain":["10'000 nM","1'000 nM","100 nM","10 nM","1 nM","0.1 nM","0.01 nM","0 nM","baseline"],"range":["#f47c2c","#c6c93c","#1e9aa5","#3a4ba3","#7c3c9c","#b453b5","#d92774","#e8282f","#3cb449"]},"legend":null}}},
     {"data":{"name":"tsE"},"mark":{"type":"point","filled":true,"size":6,"opacity":1},
      "encoding":{
       "x":{"field":"t","type":"quantitative"},
       "y":{"field":"v","type":"quantitative"},
       "color":{"field":"s","type":"nominal","scale":{"domain":["10'000 nM","1'000 nM","100 nM","10 nM","1 nM","0.1 nM","0.01 nM","0 nM","baseline"],"range":["#f47c2c","#c6c93c","#1e9aa5","#3a4ba3","#7c3c9c","#b453b5","#d92774","#e8282f","#3cb449"]},
        "legend":{"orient":"none","legendX":226,"legendY":31,"title":null,"labelFontSize":16,"symbolSize":16,"rowPadding":-1.7,"labelOffset":5,
         "encode":{
          "symbols":{"shape":{"value":{"expr":"['circle','square','triangle-up','triangle-down','diamond','circle','square','triangle-down','triangle-up'][indexof([\"10'000 nM\",\"1'000 nM\",\"100 nM\",\"10 nM\",\"1 nM\",\"0.1 nM\",\"0.01 nM\",\"0 nM\",\"baseline\"], datum.value)]"}}},
          "labels":{"fill":{"value":{"expr":"['#f47c2c','#b5b82e','#17a07a','#3a4ba3','#7c3c9c','#b453b5','#d92774','#e8282f','#3cb449'][indexof([\"10'000 nM\",\"1'000 nM\",\"100 nM\",\"10 nM\",\"1 nM\",\"0.1 nM\",\"0.01 nM\",\"0 nM\",\"baseline\"], datum.value)]"}}}}}}}},
     {"data":{"values":[{}]},"mark":{"type":"rule","color":"#2b95ab","strokeDash":[3,2],"strokeWidth":1.2},"encoding":{"x":{"datum":20,"type":"quantitative"}}}
    ]},
    {"data":{"values":[{}]},"mark":{"type":"point","opacity":0},
     "encoding":{"y":{"datum":0,"type":"quantitative","scale":{"domain":[0,1],"range":[151,33]},
      "axis":{"orient":"right","offset":12,"title":"TGF-ß1","titleAngle":270,"titleBaseline":"top","titleFontSize":16,"titleColor":"#000","titlePadding":7,"labels":false,"ticks":false,"values":[],"domainColor":"#000","domainWidth":2}}}}
   ],
   "resolve":{"scale":{"y":"independent"}}
  }]
 },
 {"title":{"text":["","G"],"lineHeight":6,"anchor":"start","frame":"bounds","fontSize":25,"fontWeight":"bold","color":"#000","offset":6,"dx":-6},
  "resolve":{"legend":{"color":"independent","shape":"independent"}},
  "vconcat":[{
   "title":{"text":"IC50 Merck-19a on α-SMA and COL1","offset":25},
   "width":288,"height":200,
   "layer":[
    {"layer":[
     {"data":{"name":"ptsG"},"transform":[{"filter":"datum.s == 'α-SMA'"}],"mark":{"type":"errorbar","ticks":true,"size":9,"thickness":1.2,"color":"#3cb44b"},
      "encoding":{
       "x":{"field":"c","type":"quantitative","scale":{"type":"log","domain":[0.0001,1000000]},"axis":{"values":[0.0001,0.01,1,100,10000,1000000],"tickCount":20,"labelExpr":"datum.value >= 1 ? format(datum.value, 'd') : format(datum.value, '~f')","title":"concentration [nM]","titlePadding":4,"labelFontSize":12}},
       "y":{"field":"lo","type":"quantitative","title":"α-SMA / tubulin","scale":{"domain":[0,0.6]},"axis":{"orient":"left","values":[0,0.2,0.4,0.6],"tickCount":20,"format":".1f","title":"α-SMA / tubulin","labelFontSize":12}},
       "y2":{"field":"hi"}}},
     {"data":{"name":"fitG"},"transform":[{"filter":"datum.s == 'α-SMA'"}],"mark":{"type":"line","color":"#3cb44b","strokeWidth":1.3},
      "encoding":{"x":{"field":"c","type":"quantitative"},"y":{"field":"v","type":"quantitative","title":"α-SMA / tubulin"}}},
     {"data":{"name":"ptsG"},"transform":[{"filter":"datum.s == 'α-SMA'"}],"mark":{"type":"point","shape":"triangle-up","filled":false,"size":55,"strokeWidth":1.2,"color":"#3cb44b","opacity":1},
      "encoding":{"x":{"field":"c","type":"quantitative"},"y":{"field":"v","type":"quantitative","title":"α-SMA / tubulin"}}}
    ]},
    {"layer":[
     {"data":{"name":"ptsG"},"transform":[{"filter":"datum.s == 'COL1'"}],"mark":{"type":"errorbar","ticks":true,"size":9,"thickness":1.2,"color":"#e8262b"},
      "encoding":{
       "x":{"field":"c","type":"quantitative"},
       "y":{"field":"lo","type":"quantitative","title":"COL1 / tubulin","scale":{"domain":[0,0.6]},"axis":{"orient":"right","values":[0,0.2,0.4,0.6],"tickCount":20,"format":".1f","title":"COL1 / tubulin","labelFontSize":13,"labelFontWeight":"bold","labelColor":"#000"}},
       "y2":{"field":"hi"}}},
     {"data":{"name":"fitG"},"transform":[{"filter":"datum.s == 'COL1'"}],"mark":{"type":"line","color":"#e8262b","strokeWidth":1.3},
      "encoding":{"x":{"field":"c","type":"quantitative"},"y":{"field":"v","type":"quantitative","title":"COL1 / tubulin"}}},
     {"data":{"name":"ptsG"},"transform":[{"filter":"datum.s == 'COL1'"}],"mark":{"type":"point","shape":"circle","filled":false,"size":60,"strokeWidth":1.2,"color":"#e8262b","opacity":1},
      "encoding":{"x":{"field":"c","type":"quantitative"},"y":{"field":"v","type":"quantitative","title":"COL1 / tubulin"}}},
     {"data":{"name":"ptsG"},"mark":{"type":"point","filled":false,"opacity":0},
      "encoding":{"x":{"field":"c","type":"quantitative"},"y":{"field":"v","type":"quantitative","title":"COL1 / tubulin"},
       "color":{"field":"s","type":"nominal","scale":{"domain":["COL1","α-SMA"],"range":["#e8262b","#3cb44b"]},
        "legend":{"orient":"none","legendX":186,"legendY":-8,"title":null,"labelFontSize":13,"rowPadding":4,"symbolSize":520,"symbolStrokeWidth":1.2,"symbolOpacity":1,"labelOffset":4}},
       "shape":{"field":"s","type":"nominal","scale":{"domain":["COL1","α-SMA"],"range":["M-1,0L-0.3,0M0.3,0L1,0M0.3,0A0.3,0.3,0,1,1,-0.3,0A0.3,0.3,0,1,1,0.3,0","M-1,0.05L-0.22,0.05M0.22,0.05L1,0.05M0,-0.3L0.32,0.25L-0.32,0.25Z"]}}}}
    ]}
   ],
   "resolve":{"scale":{"y":"independent"}}
  }]
 }
],"columns":1,"align":"none","spacing":8,"resolve":{"scale":{"color":"independent","shape":"independent","stroke":"independent","xOffset":"independent"},"legend":{"color":"independent","shape":"independent"}}},
{"concat":[
 {"title":{"text":"B","anchor":"start","frame":"bounds","fontSize":25,"fontWeight":"bold","color":"#000","offset":-23,"dx":-37},
  "vconcat":[{
   "title":{"text":"IC50 of ONO-18k on impedance","dx":-12,"offset":6},
   "width":295,"height":14,
   "data":{"values":[]},
   "mark":{"type":"point"}
  }]
 },
 {"width":295,"height":195,
  "layer":[
   {"data":{"values":[{}]},"mark":{"type":"rule","strokeDash":[2,3.5],"strokeWidth":2.2,"color":"#000"},"encoding":{"y":{"datum":0,"type":"quantitative"}}},
   {"data":{"name":"fitB"},"mark":{"type":"line","color":"#000","strokeWidth":1.2},
    "encoding":{
     "x":{"field":"c","type":"quantitative","title":"concentration [nM]","scale":{"type":"log","domain":[0.0001,1000000]},"axis":{"values":[0.0001,0.01,1,100,10000,1000000],"tickCount":20,"labelExpr":"datum.value >= 1 ? format(datum.value, 'd') : format(datum.value, '~f')","title":"concentration [nM]","titlePadding":3}},
     "y":{"field":"v","type":"quantitative","title":"impedance change","scale":{"domain":[-1,1]},"axis":{"values":[-1,-0.5,0,0.5,1],"tickCount":20,"format":".1f","title":"impedance change"}}}},
   {"data":{"name":"ptsB"},"mark":{"type":"square","size":70,"color":"#000","opacity":1},
    "encoding":{"x":{"field":"c","type":"quantitative","title":"concentration [nM]"},"y":{"field":"v","type":"quantitative","title":"impedance change"}}}
  ]
 },
 {"title":{"text":["","D"],"lineHeight":9,"anchor":"start","frame":"bounds","fontSize":25,"fontWeight":"bold","color":"#000","offset":-18,"dx":-8},
  "resolve":{"legend":{"color":"independent"}},
  "vconcat":[{
   "title":{"text":"ONO-18k effect on α-SMA and COL1","dx":-7,"offset":27},
   "width":248,"height":166,
   "layer":[
    {"layer":[
     {"data":{"name":"barsD"},"mark":{"type":"bar"},
      "encoding":{
       "x":{"field":"g","type":"nominal","scale":{"domain":["Control","0","0.01","0.1","1","10","100","1000","10000"],"paddingInner":0,"paddingOuter":0.46,"align":0.22},"axis":{"title":"ONO-18k [nM] + 5 ng / ml TGF-ß1","labelAngle":-45,"labelAlign":"right","labelBaseline":"middle","bandPosition":0.245,"labelFontSize":11,"titlePadding":21}},
       "xOffset":{"field":"s","type":"nominal","scale":{"domain":["α-SMA","COL1"],"paddingInner":0.25,"paddingOuter":0.1}},
       "y":{"field":"v","type":"quantitative","scale":{"domain":[0,0.5]},"axis":{"orient":"left","values":[0,0.1,0.2,0.3,0.4,0.5],"tickCount":20,"format":".1f","title":"α-SMA / tubulin"}},
       "color":{"field":"s","type":"nominal","scale":{"domain":["COL1","α-SMA"],"range":["#e8262b","#3bb54a"]},"legend":{"orient":"none","legendX":172,"legendY":5,"title":null,"labelFontSize":13,"symbolType":"square","symbolSize":120,"rowPadding":8,"labelOffset":10}}}},
     {"data":{"values":[{}]},"mark":{"type":"rule","color":"#000","strokeWidth":1.5},
      "encoding":{"x":{"datum":"0","type":"nominal","bandPosition":0.05},"x2":{"datum":"10000"},"y":{"datum":-0.12,"type":"quantitative"}}}
    ]},
    {"data":{"name":"dotsD"},"mark":{"type":"point","filled":false,"size":30,"color":"#000","strokeWidth":1,"opacity":1},
     "encoding":{
      "x":{"field":"g","type":"nominal"},
      "xOffset":{"field":"s","type":"nominal","scale":{"domain":["α-SMA","COL1"],"paddingInner":0.25,"paddingOuter":0.1}},
      "y":{"field":"v","type":"quantitative","scale":{"domain":[0,0.5]},"axis":{"orient":"right","values":[0,0.1,0.2,0.3,0.4,0.5],"tickCount":20,"format":".1f","title":"COL1 / tubulin"}}}}
   ],
   "resolve":{"scale":{"y":"independent"}}
  }]
 },
 {"title":{"text":["","F"],"lineHeight":8,"anchor":"start","frame":"bounds","fontSize":25,"fontWeight":"bold","color":"#000","offset":-12,"dx":-6},
  "vconcat":[{
   "title":{"text":"IC50 of Merck-19a on impedance","dx":-16,"offset":9},
   "width":285,"height":190,
   "layer":[
    {"data":{"values":[{}]},"mark":{"type":"rule","strokeDash":[2,3.5],"strokeWidth":2.2,"color":"#000"},"encoding":{"y":{"datum":0,"type":"quantitative"}}},
    {"data":{"name":"fitF"},"mark":{"type":"line","color":"#000","strokeWidth":1.2},
     "encoding":{
      "x":{"field":"c","type":"quantitative","title":"concentration [nM]","scale":{"type":"log","domain":[0.0001,1000000]},"axis":{"values":[0.0001,0.01,1,100,10000,1000000],"tickCount":20,"labelExpr":"datum.value >= 1 ? format(datum.value, 'd') : format(datum.value, '~f')","title":"concentration [nM]","titlePadding":24}},
      "y":{"field":"v","type":"quantitative","title":"impedance change","scale":{"domain":[-1,1.5]},"axis":{"values":[-1,-0.5,0,0.5,1,1.5],"tickCount":20,"format":".1f","title":"impedance change"}}}},
    {"data":{"name":"ptsF"},"mark":{"type":"errorbar","ticks":true,"size":9,"thickness":1.3,"color":"#000"},
     "encoding":{"x":{"field":"c","type":"quantitative","title":"concentration [nM]"},"y":{"field":"lo","type":"quantitative","title":"impedance change"},"y2":{"field":"hi"}}},
    {"data":{"name":"ptsF"},"mark":{"type":"square","size":70,"color":"#000","opacity":1},
     "encoding":{"x":{"field":"c","type":"quantitative","title":"concentration [nM]"},"y":{"field":"v","type":"quantitative","title":"impedance change"}}}
   ]
  }]
 },
 {"title":{"text":["","H"],"lineHeight":14,"anchor":"start","frame":"bounds","fontSize":25,"fontWeight":"bold","color":"#000","offset":2,"dx":-5},
  "resolve":{"legend":{"color":"independent"}},
  "vconcat":[{
   "title":{"text":"Merck-19a effect on α-SMA and COL1","dx":5,"offset":39},
   "width":244,"height":161,
   "layer":[
    {"layer":[
     {"data":{"name":"barsH"},"mark":{"type":"bar"},
      "encoding":{
       "x":{"field":"g","type":"nominal","scale":{"domain":["Control","0","0.01","0.1","1","10","100","1000","10000"],"paddingInner":0,"paddingOuter":0.46,"align":0.3},"axis":{"title":"Merck-19a [nM] + 5 ng / ml TGF-ß1","labelAngle":-45,"labelAlign":"right","labelBaseline":"middle","bandPosition":0.245,"labelFontSize":11,"titlePadding":16}},
       "xOffset":{"field":"s","type":"nominal","scale":{"domain":["α-SMA","COL1"],"paddingInner":0.25,"paddingOuter":0.1}},
       "y":{"field":"v","type":"quantitative","scale":{"domain":[0,0.6]},"axis":{"orient":"left","values":[0,0.2,0.4,0.6],"tickCount":20,"format":".1f","title":"α-SMA / tubulin"}},
       "color":{"field":"s","type":"nominal","scale":{"domain":["COL1","α-SMA"],"range":["#e8262b","#3bb54a"]},"legend":{"orient":"none","legendX":180,"legendY":4,"title":null,"labelFontSize":13,"symbolType":"square","symbolSize":120,"rowPadding":7,"labelOffset":8}}}},
     {"data":{"values":[{}]},"mark":{"type":"rule","color":"#666","strokeWidth":1.5},
      "encoding":{"x":{"datum":"0","type":"nominal","bandPosition":0.05},"x2":{"datum":"10000"},"y":{"datum":-0.17,"type":"quantitative"}}}
    ]},
    {"data":{"name":"dotsH"},"mark":{"type":"point","filled":false,"size":30,"color":"#000","strokeWidth":1,"opacity":1},
     "encoding":{
      "x":{"field":"g","type":"nominal"},
      "xOffset":{"field":"s","type":"nominal","scale":{"domain":["α-SMA","COL1"],"paddingInner":0.25,"paddingOuter":0.1}},
      "y":{"field":"v","type":"quantitative","scale":{"domain":[0,0.6]},"axis":{"orient":"right","values":[0,0.2,0.4,0.6],"tickCount":20,"format":".1f","title":"COL1 / tubulin"}}}}
   ],
   "resolve":{"scale":{"y":"independent"}}
  }]
 }
],"columns":1,"align":"none","spacing":8,"resolve":{"scale":{"color":"independent","shape":"independent","stroke":"independent","xOffset":"independent"},"legend":{"color":"independent","shape":"independent"}}}
]
}
